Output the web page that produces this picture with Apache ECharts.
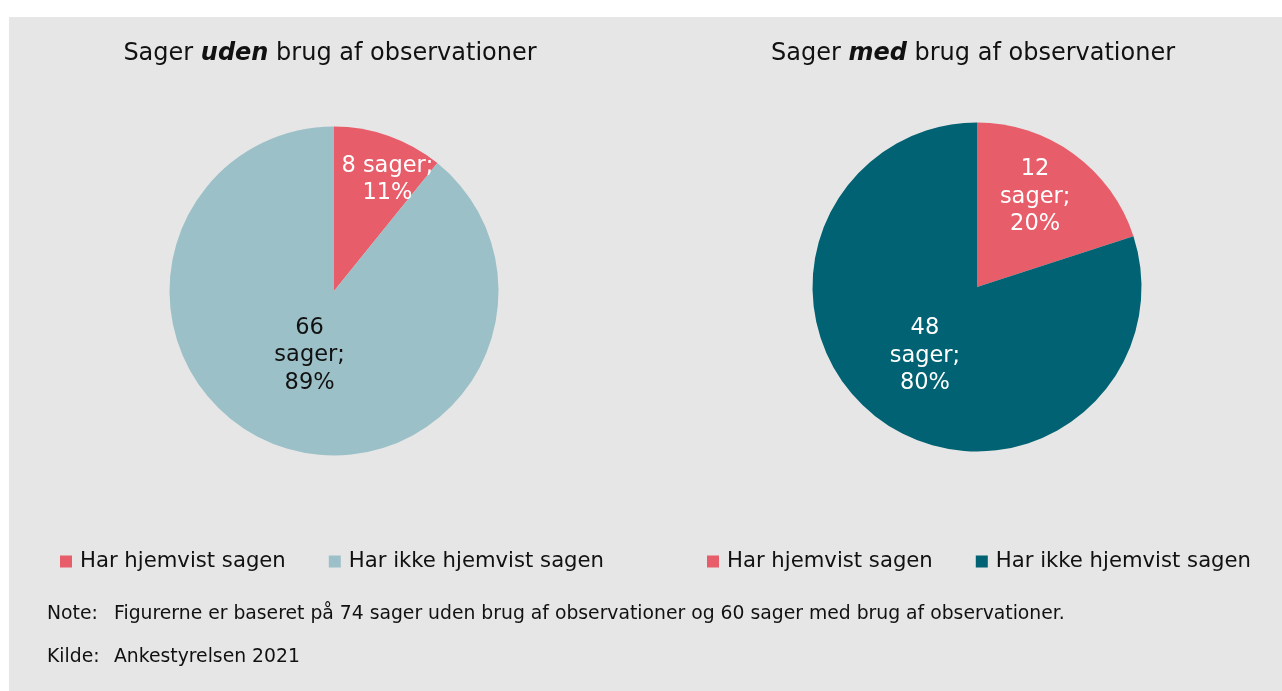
<!DOCTYPE html>
<html>
<head>
<meta charset="utf-8">
<script src="https://cdn.jsdelivr.net/npm/echarts@6/dist/echarts.min.js"></script>
<style>
html,body{margin:0;padding:0;background:#ffffff;}
#c{width:1282px;height:691px;}
</style>
</head>
<body>
<div id="c"></div>
<script>
var categories = ['Har hjemvist sagen', 'Har ikke hjemvist sagen'];
var udenValues = [8, 66];
var medValues = [12, 48];
var udenColors = ['#e85d6a', '#9cc0c7'];
var medColors = ['#e85d6a', '#006272'];
var noteText = 'Figurerne er baseret på 74 sager uden brug af observationer og 60 sager med brug af observationer.';
var sourceText = 'Ankestyrelsen 2021';

var FONT_T = '"DejaVu Sans", Verdana, sans-serif';
var FONT_L = '"DejaVu Sans", Tahoma, sans-serif';

function labelFmt(breaks) {
  return function (p) {
    return p.value + breaks[p.dataIndex] + 'sager;\n' + Math.round(p.percent) + '%';
  };
}

function buildData(vals, colors, labelColors) {
  return vals.map(function (v, i) {
    return { name: categories[i], value: v, itemStyle: { color: colors[i] }, label: { color: labelColors[i] } };
  });
}

var chart = echarts.init(document.getElementById('c'), null, { renderer: 'canvas' });

var udenShift = [[25, -31], [4, -16]];
var medShift = [[8, -21], [-2, 0]];

var titleStyle = { fontFamily: FONT_T, fontSize: 24, fontWeight: 'normal', color: '#111111',
  rich: { b: { fontFamily: FONT_T, fontSize: 24, fontWeight: 'bold', fontStyle: 'italic', color: '#111111' } } };
var noteStyle = { fontFamily: FONT_L, fontSize: 18.8, fontWeight: 'normal', color: '#111111' };
var legendText = { fontFamily: FONT_L, fontSize: 21.2, color: '#111111', padding: [0, 0, 0, 3] };

var option = {
  backgroundColor: '#ffffff',
  animation: false,
  graphic: [
    { type: 'rect', left: 9, top: 17, shape: { width: 1273, height: 674 }, style: { fill: '#e6e6e6' }, z: -10 }
  ],
  title: [
    { text: 'Sager {b|uden} brug af observationer', left: 330, top: 42, padding: 0, textAlign: 'center', textStyle: titleStyle },
    { text: 'Sager {b|med} brug af observationer', left: 973, top: 42, padding: 0, textAlign: 'center', textStyle: titleStyle },
    { text: 'Note:', left: 47, top: 605, padding: 0, textStyle: noteStyle },
    { text: noteText, left: 114, top: 605, padding: 0, textStyle: noteStyle },
    { text: 'Kilde:', left: 47, top: 648, padding: 0, textStyle: noteStyle },
    { text: sourceText, left: 114, top: 648, padding: 0, textStyle: noteStyle }
  ],
  legend: [
    {
      left: 60, top: 551, padding: 0, itemWidth: 12, itemHeight: 12, itemGap: 43, icon: 'rect',
      textStyle: legendText,
      data: categories.map(function (c, i) { return { name: c, itemStyle: { color: udenColors[i] } }; }),
      selectedMode: false
    },
    {
      left: 707, top: 551, padding: 0, itemWidth: 12, itemHeight: 12, itemGap: 43, icon: 'rect',
      textStyle: legendText,
      data: categories.map(function (c, i) { return { name: c, itemStyle: { color: medColors[i] } }; }),
      selectedMode: false
    }
  ],
  series: [
    {
      type: 'pie', name: 'uden', center: [334, 291], radius: 164.5,
      startAngle: 90, clockwise: true,
      label: { position: 'inside', fontFamily: FONT_L, fontSize: 22.5, lineHeight: 27.5, align: 'center',
        formatter: labelFmt([' ', '\n']) },
      labelLine: { show: false },
      labelLayout: function (p) { var s = udenShift[p.dataIndex]; return { dx: s[0], dy: s[1] }; },
      emphasis: { disabled: true },
      data: buildData(udenValues, udenColors, ['#ffffff', '#111111'])
    },
    {
      type: 'pie', name: 'med', center: [977, 287], radius: 164.5,
      startAngle: 90, clockwise: true,
      label: { position: 'inside', fontFamily: FONT_L, fontSize: 22.5, lineHeight: 27.5, align: 'center',
        formatter: labelFmt(['\n', '\n']) },
      labelLine: { show: false },
      labelLayout: function (p) { var s = medShift[p.dataIndex]; return { dx: s[0], dy: s[1] }; },
      emphasis: { disabled: true },
      data: buildData(medValues, medColors, ['#ffffff', '#ffffff'])
    }
  ]
};
chart.setOption(option);
</script>
</body>
</html>
